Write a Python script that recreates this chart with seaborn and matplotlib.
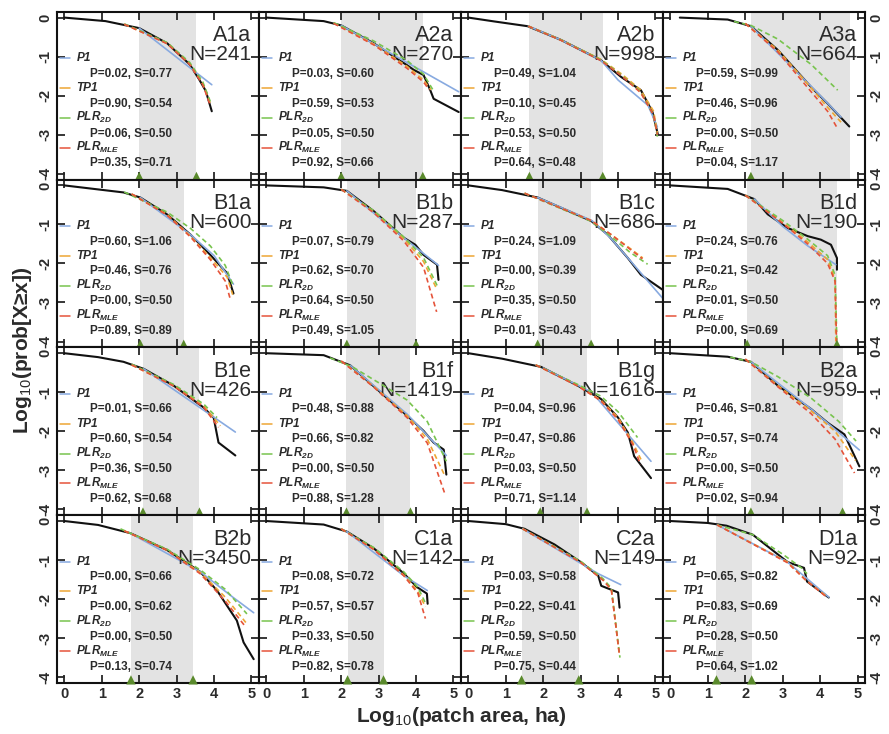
import matplotlib
matplotlib.use("Agg")
import matplotlib.pyplot as plt
import pandas as pd
import seaborn as sns

# panel names, sample sizes, shaded fitting range (log10 ha)
PANELS = ["A1a", "A2a", "A2b", "A3a", "B1a", "B1b", "B1c", "B1d",
          "B1e", "B1f", "B1g", "B2a", "B2b", "C1a", "C2a", "D1a"]
N_PATCH = [241, 270, 998, 664, 600, 287, 686, 190,
           426, 1419, 1616, 959, 3450, 142, 149, 92]
SHADE_LO = [2.0, 2.0, 1.63, 2.15, 2.03, 2.15, 1.85, 2.05,
            2.1, 2.14, 1.92, 2.15, 1.78, 2.17, 1.42, 1.23]
SHADE_HI = [3.53, 4.18, 3.59, 4.81, 3.19, 4.0, 3.28, 4.45,
            3.61, 3.85, 3.17, 4.6, 3.44, 3.13, 2.95, 2.17]
UPPER_TRI = [True, True, True, False, True, True, True, True,
             True, True, True, True, True, True, True, True]

MODELS = ["P1", "TP1", r"PLR$_{\mathbf{2D}}$", r"PLR$_{\mathbf{MLE}}$"]
# goodness of fit: P value and S per panel, order P1, TP1, PLR2D, PLRMLE
P_VAL = [
    [0.02, 0.90, 0.06, 0.35], [0.03, 0.59, 0.05, 0.92], [0.49, 0.10, 0.53, 0.64], [0.59, 0.46, 0.00, 0.04],
    [0.60, 0.46, 0.00, 0.89], [0.07, 0.62, 0.64, 0.49], [0.24, 0.00, 0.35, 0.01], [0.24, 0.21, 0.01, 0.00],
    [0.01, 0.60, 0.36, 0.62], [0.48, 0.66, 0.00, 0.88], [0.04, 0.47, 0.03, 0.71], [0.46, 0.57, 0.00, 0.02],
    [0.00, 0.00, 0.00, 0.13], [0.08, 0.57, 0.33, 0.82], [0.03, 0.22, 0.59, 0.75], [0.65, 0.83, 0.28, 0.64],
]
S_VAL = [
    [0.77, 0.54, 0.50, 0.71], [0.60, 0.53, 0.50, 0.66], [1.04, 0.45, 0.50, 0.48], [0.99, 0.96, 0.50, 1.17],
    [1.06, 0.76, 0.50, 0.89], [0.79, 0.70, 0.50, 1.05], [1.09, 0.39, 0.50, 0.43], [0.76, 0.42, 0.50, 0.69],
    [0.66, 0.54, 0.50, 0.68], [0.88, 0.82, 0.50, 1.28], [0.96, 0.86, 0.50, 1.14], [0.81, 0.74, 0.50, 0.94],
    [0.66, 0.62, 0.50, 0.74], [0.72, 0.57, 0.50, 0.78], [0.58, 0.41, 0.50, 0.44], [0.82, 0.69, 0.50, 1.02],
]

EMPIRICAL = [
    [(0.0, 0.0), (1.1, -0.09), (2.0, -0.27), (2.75, -0.66), (3.35, -1.2), (3.6, -1.58), (3.78, -1.88), (3.94, -2.4)],
    [(0.0, 0.0), (1.53, -0.09), (2.0, -0.2), (2.87, -0.66), (3.76, -1.22), (3.94, -1.34), (4.2, -1.47), (4.38, -1.86), (4.47, -2.08), (5.14, -2.42)],
    [(0.0, 0.0), (0.7, -0.1), (1.58, -0.22), (2.47, -0.57), (3.54, -1.09), (4.08, -1.52), (4.61, -1.86), (4.92, -2.42), (5.06, -2.98)],
    [(0.25, 0.0), (1.53, -0.05), (2.15, -0.22), (2.87, -0.83), (3.76, -1.78), (4.2, -2.2), (4.78, -2.79)],
    [(0.0, 0.0), (1.58, -0.18), (2.03, -0.31), (2.74, -0.74), (3.37, -1.26), (3.9, -1.78), (4.35, -2.25), (4.52, -2.77)],
    [(0.0, 0.0), (1.53, -0.05), (2.15, -0.14), (2.87, -0.66), (3.67, -1.34), (3.98, -1.52), (4.2, -1.78), (4.56, -2.03), (4.6, -2.42)],
    [(0.0, 0.0), (0.9, -0.12), (1.85, -0.31), (3.28, -0.91), (3.72, -1.26), (4.26, -1.86), (4.61, -2.29), (5.2, -2.68)],
    [(0.0, 0.0), (1.53, -0.09), (2.24, -0.35), (2.6, -0.74), (3.13, -1.09), (3.67, -1.3), (4.02, -1.39), (4.29, -1.52), (4.45, -1.86), (4.45, -2.16)],
    [(0.0, 0.0), (0.9, -0.1), (1.58, -0.22), (2.12, -0.4), (2.92, -0.83), (3.72, -1.39), (3.99, -1.65), (4.12, -2.29), (4.57, -2.62)],
    [(0.0, 0.0), (1.53, -0.05), (2.24, -0.31), (2.87, -0.85), (3.76, -1.6), (4.2, -1.99), (4.47, -2.29), (4.74, -2.47), (4.81, -3.11)],
    [(0.0, 0.0), (0.9, -0.14), (1.94, -0.35), (2.92, -0.83), (3.54, -1.17), (4.0, -1.65), (4.26, -2.03), (4.43, -2.64), (4.88, -3.2)],
    [(0.0, 0.0), (1.53, -0.09), (2.15, -0.22), (2.87, -0.83), (3.76, -1.43), (4.2, -1.78), (4.65, -2.08), (5.05, -2.9)],
    [(0.0, 0.0), (0.9, -0.1), (1.76, -0.31), (2.74, -0.74), (3.63, -1.3), (4.08, -1.78), (4.43, -2.29), (4.61, -2.55), (4.79, -3.11), (5.06, -3.54)],
    [(0.0, 0.0), (1.53, -0.09), (2.15, -0.27), (2.87, -0.7), (3.67, -1.34), (4.02, -1.69), (4.29, -1.86), (4.31, -2.12)],
    [(0.0, 0.0), (1.0, -0.08), (1.5, -0.2), (2.3, -0.6), (3.0, -1.05), (3.47, -1.4), (3.55, -1.66), (4.0, -1.83), (4.04, -2.22)],
    [(0.0, 0.0), (1.0, -0.05), (1.5, -0.12), (2.2, -0.35), (3.13, -1.05), (3.57, -1.2), (3.65, -1.55), (4.23, -1.96)],
]

FIT_P1 = [
    [(2.0, -0.27), (3.94, -1.72)],
    [(2.0, -0.2), (5.14, -1.9)],
    [(1.6, -0.22), (2.47, -0.57), (3.54, -1.09), (4.0, -1.6), (4.8, -2.25), (5.05, -2.8)],
    [(2.15, -0.22), (3.76, -1.76), (4.56, -2.55)],
    [(2.03, -0.31), (3.37, -1.26), (4.0, -1.8), (4.52, -2.53)],
    [(2.15, -0.14), (3.67, -1.34), (4.6, -2.05)],
    [(1.85, -0.31), (3.3, -0.9), (3.8, -1.35), (4.3, -1.9), (5.2, -2.9)],
    [(2.24, -0.35), (3.0, -1.05), (3.67, -1.55), (4.42, -2.03)],
    [(2.12, -0.4), (4.57, -2.02)],
    [(2.24, -0.31), (3.76, -1.56), (4.81, -2.62)],
    [(2.0, -0.38), (3.3, -1.0), (4.88, -2.77)],
    [(2.15, -0.22), (3.76, -1.43), (5.05, -2.48)],
    [(1.76, -0.31), (3.63, -1.3), (4.5, -1.95), (5.06, -2.35)],
    [(2.15, -0.27), (3.67, -1.4), (4.3, -1.78)],
    [(1.45, -0.2), (3.47, -1.35), (4.07, -1.63)],
    [(1.25, -0.1), (3.13, -1.05), (4.23, -1.95)],
]
FIT_TP1 = [
    [(1.6, -0.17), (2.75, -0.66), (3.35, -1.18), (3.7, -1.7), (3.9, -2.2)],
    [(1.8, -0.14), (2.87, -0.68), (3.76, -1.25), (4.2, -1.6), (4.4, -1.85)],
    [(1.6, -0.22), (2.47, -0.57), (3.54, -1.07), (4.1, -1.45), (4.6, -1.85), (4.95, -2.4), (5.05, -2.95)],
    [(2.0, -0.15), (2.87, -0.83), (3.76, -1.8), (4.2, -2.3), (4.56, -2.68)],
    [(1.8, -0.22), (2.74, -0.74), (3.37, -1.3), (3.9, -1.85), (4.35, -2.35), (4.5, -2.8)],
    [(2.0, -0.1), (2.87, -0.66), (3.67, -1.36), (4.2, -1.95), (4.55, -2.65)],
    [(1.5, -0.2), (3.28, -0.9), (3.8, -1.25), (4.3, -1.6), (4.66, -1.86)],
    [(2.0, -0.25), (3.0, -0.95), (3.67, -1.45), (4.2, -1.9), (4.4, -2.4), (4.42, -4.0)],
    [(1.8, -0.3), (2.92, -0.83), (3.72, -1.35), (4.17, -1.86)],
    [(2.0, -0.2), (2.87, -0.85), (3.76, -1.6), (4.3, -2.2), (4.75, -3.1)],
    [(1.8, -0.3), (2.92, -0.83), (3.54, -1.2), (4.0, -1.65), (4.4, -2.3), (4.61, -2.72)],
    [(2.0, -0.15), (2.87, -0.83), (3.76, -1.48), (4.4, -2.0), (4.95, -2.75)],
    [(1.6, -0.25), (2.74, -0.74), (3.63, -1.32), (4.3, -1.95), (4.85, -2.6)],
    [(2.0, -0.2), (2.87, -0.72), (3.67, -1.38), (4.05, -1.8), (4.25, -2.2)],
    [(1.45, -0.2), (3.0, -1.05), (3.6, -1.5), (3.82, -1.75), (4.03, -3.4)],
    [(1.25, -0.1), (3.13, -1.05), (3.6, -1.5), (4.2, -1.95)],
]
FIT_PLR2D = [
    [(1.6, -0.16), (2.75, -0.64), (3.35, -1.15), (3.7, -1.65), (3.9, -2.15)],
    [(1.8, -0.13), (2.87, -0.6), (3.76, -1.1), (4.2, -1.45), (4.45, -1.85)],
    [(1.6, -0.22), (2.47, -0.57), (3.54, -1.08), (4.1, -1.48), (4.6, -1.9), (4.95, -2.5), (5.05, -3.05)],
    [(1.7, -0.1), (2.15, -0.2), (2.87, -0.55), (3.76, -1.2), (4.47, -1.86)],
    [(1.6, -0.17), (2.74, -0.68), (3.37, -1.1), (3.9, -1.55), (4.3, -2.05), (4.52, -2.6)],
    [(2.0, -0.1), (2.87, -0.65), (3.67, -1.32), (4.2, -1.85), (4.6, -2.64)],
    [(1.5, -0.2), (3.28, -0.92), (3.8, -1.3), (4.3, -1.7), (4.79, -2.02)],
    [(2.0, -0.25), (3.0, -0.9), (3.67, -1.38), (4.2, -1.8), (4.4, -2.3), (4.45, -4.05)],
    [(1.8, -0.28), (2.92, -0.8), (3.72, -1.3), (4.08, -1.65)],
    [(1.7, -0.12), (2.3, -0.35), (2.87, -0.68), (3.76, -1.2), (4.3, -1.75), (4.81, -2.77)],
    [(1.8, -0.3), (2.92, -0.8), (3.54, -1.1), (4.0, -1.5), (4.52, -2.16)],
    [(1.6, -0.1), (2.15, -0.22), (2.87, -0.6), (3.76, -1.15), (4.5, -1.75), (4.96, -2.25)],
    [(1.5, -0.2), (2.74, -0.72), (3.63, -1.25), (4.3, -1.75), (4.88, -2.38)],
    [(2.0, -0.2), (2.87, -0.68), (3.67, -1.3), (4.05, -1.7), (4.25, -2.1)],
    [(1.45, -0.2), (3.0, -1.03), (3.6, -1.48), (3.82, -1.72), (4.05, -3.5)],
    [(1.25, -0.1), (2.2, -0.35), (3.0, -0.85), (3.5, -1.2), (3.65, -1.35)],
]
FIT_PLRMLE = [
    [(1.6, -0.17), (2.75, -0.67), (3.35, -1.2), (3.7, -1.72), (3.9, -2.25)],
    [(1.8, -0.15), (2.87, -0.7), (3.76, -1.3), (4.2, -1.65), (4.35, -1.85)],
    [(1.6, -0.22), (2.47, -0.58), (3.54, -1.1), (4.1, -1.5), (4.6, -1.92), (4.95, -2.5), (5.05, -3.0)],
    [(2.0, -0.15), (2.87, -0.88), (3.76, -1.9), (4.2, -2.4), (4.47, -2.85)],
    [(1.8, -0.22), (2.74, -0.76), (3.37, -1.32), (3.9, -1.9), (4.3, -2.45), (4.43, -2.9)],
    [(2.0, -0.1), (2.87, -0.7), (3.67, -1.42), (4.2, -2.1), (4.55, -3.24)],
    [(1.5, -0.2), (3.28, -0.9), (3.8, -1.25), (4.3, -1.62), (4.65, -1.88)],
    [(2.0, -0.25), (3.0, -0.97), (3.67, -1.5), (4.2, -2.0), (4.4, -2.45), (4.44, -4.0)],
    [(1.8, -0.3), (2.92, -0.84), (3.72, -1.38), (4.12, -1.9)],
    [(2.0, -0.2), (2.87, -0.87), (3.76, -1.65), (4.3, -2.3), (4.78, -3.63)],
    [(1.8, -0.3), (2.92, -0.84), (3.54, -1.22), (4.0, -1.7), (4.4, -2.35), (4.6, -2.85)],
    [(2.0, -0.15), (2.87, -0.86), (3.76, -1.55), (4.4, -2.2), (4.92, -3.07)],
    [(1.6, -0.25), (2.74, -0.75), (3.63, -1.35), (4.3, -2.05), (4.85, -2.72)],
    [(2.0, -0.2), (2.87, -0.73), (3.67, -1.4), (4.05, -1.85), (4.25, -2.5)],
    [(1.45, -0.2), (3.0, -1.06), (3.6, -1.52), (3.82, -1.76), (4.04, -3.45)],
    [(1.25, -0.1), (3.13, -1.07), (3.6, -1.5), (4.2, -1.97)],
]

X_TICKS = [0, 1, 2, 3, 4, 5]
Y_TICKS = [0, -1, -2, -3, -4]
Y_TICK_LABELS = ["0", "-1", "-2", "-3", "-4"]

sns.set_theme(style="white")
plt.rcParams["font.family"] = ["Liberation Sans", "DejaVu Sans"]
plt.rcParams["mathtext.fontset"] = "custom"
plt.rcParams["mathtext.rm"] = "Liberation Sans"
plt.rcParams["mathtext.it"] = "Liberation Sans:italic"
plt.rcParams["mathtext.bf"] = "Liberation Sans:bold:italic"

FIT_COLORS = ["#88aae0", "#eda634", "#78c44e", "#e5533a"]
FIT_DASH = [None, (3, 2), (3, 2), (3, 2)]
TXT = "#2b2b2b"

fig, axes = plt.subplots(4, 4, figsize=(8.89, 7.34), dpi=100)
fig.subplots_adjust(left=0.064, right=0.973, top=0.984, bottom=0.0695,
                    wspace=0, hspace=0)


def draw_curve(ax, pts, color, lw, dash=None, z=3):
    df = pd.DataFrame(pts, columns=["x", "y"])
    kw = {}
    if dash is not None:
        kw["dashes"] = dash
    sns.lineplot(data=df, x="x", y="y", ax=ax, color=color, lw=lw,
                 estimator=None, sort=False, zorder=z, **kw)


for i, ax in enumerate(axes.flat):
    row, col = divmod(i, 4)
    ax.axvspan(SHADE_LO[i], SHADE_HI[i], color="#e3e3e3", lw=0, zorder=0)

    draw_curve(ax, EMPIRICAL[i], "#111111", 1.5, z=2)
    fits = [FIT_P1[i], FIT_TP1[i], FIT_PLR2D[i], FIT_PLRMLE[i]]
    for k, pts in enumerate(fits):
        draw_curve(ax, pts, FIT_COLORS[k], 1.2, FIT_DASH[k], z=3 + k)

    tri_x = [SHADE_LO[i]] + ([SHADE_HI[i]] if UPPER_TRI[i] else [])
    sns.scatterplot(x=tri_x, y=[-4.07] * len(tri_x), ax=ax, marker="^",
                    s=45, color="#5a8a2c", edgecolor="none", zorder=8, clip_on=False)

    # legend block with fit statistics
    for k, name in enumerate(MODELS):
        y0 = -1.04 - 0.765 * k
        ax.plot([-0.12, 0.14], [y0, y0], color=FIT_COLORS[k], lw=1.1, zorder=9)
        ax.text(0.32, y0, name, fontsize=8.5, fontweight="bold", fontstyle="italic",
                color=TXT, va="center", ha="left", zorder=9)
        ax.text(0.68, y0 - 0.4, f"P={P_VAL[i][k]:.2f}, S={S_VAL[i][k]:.2f}",
                fontsize=8.5, fontweight="bold", color=TXT, va="center", ha="left", zorder=9)

    ax.text(0.963, 0.823, PANELS[i], transform=ax.transAxes, fontsize=15.5,
            color=TXT, ha="right", va="baseline")
    ax.text(0.963, 0.71, f"N={N_PATCH[i]}", transform=ax.transAxes, fontsize=15,
            color=TXT, ha="right", va="baseline")

    ax.set_xlim(-0.2, 5.2)
    ax.set_ylim(-4.15, 0.15)
    ax.set_xlabel("")
    ax.set_ylabel("")
    ax.set_xticks(X_TICKS)
    ax.set_yticks(Y_TICKS)
    ax.set_xticklabels([str(t) for t in X_TICKS], fontsize=10.5, fontweight="bold", color=TXT)
    ax.set_yticklabels(Y_TICK_LABELS, fontsize=10.5, fontweight="bold", color=TXT,
                       rotation=90, va="center")
    ax.tick_params(direction="in", length=6, width=1.3, top=True, right=True,
                   bottom=True, left=True, labelbottom=(row == 3),
                   labelleft=(col == 0), labelright=(col == 3), pad=3)
    for side in ax.spines.values():
        side.set_linewidth(1.5)
        side.set_color("#111111")

fig.text(0.519, 0.024, "Log$_{10}$(patch area, ha)", fontsize=15, fontweight="bold",
         color=TXT, ha="center", va="center")
fig.text(0.025, 0.523, "Log$_{10}$(prob[X≥x])", fontsize=15, fontweight="bold",
         color=TXT, ha="center", va="center", rotation=90)

fig.savefig("out.png", dpi=100)
plt.close(fig)
